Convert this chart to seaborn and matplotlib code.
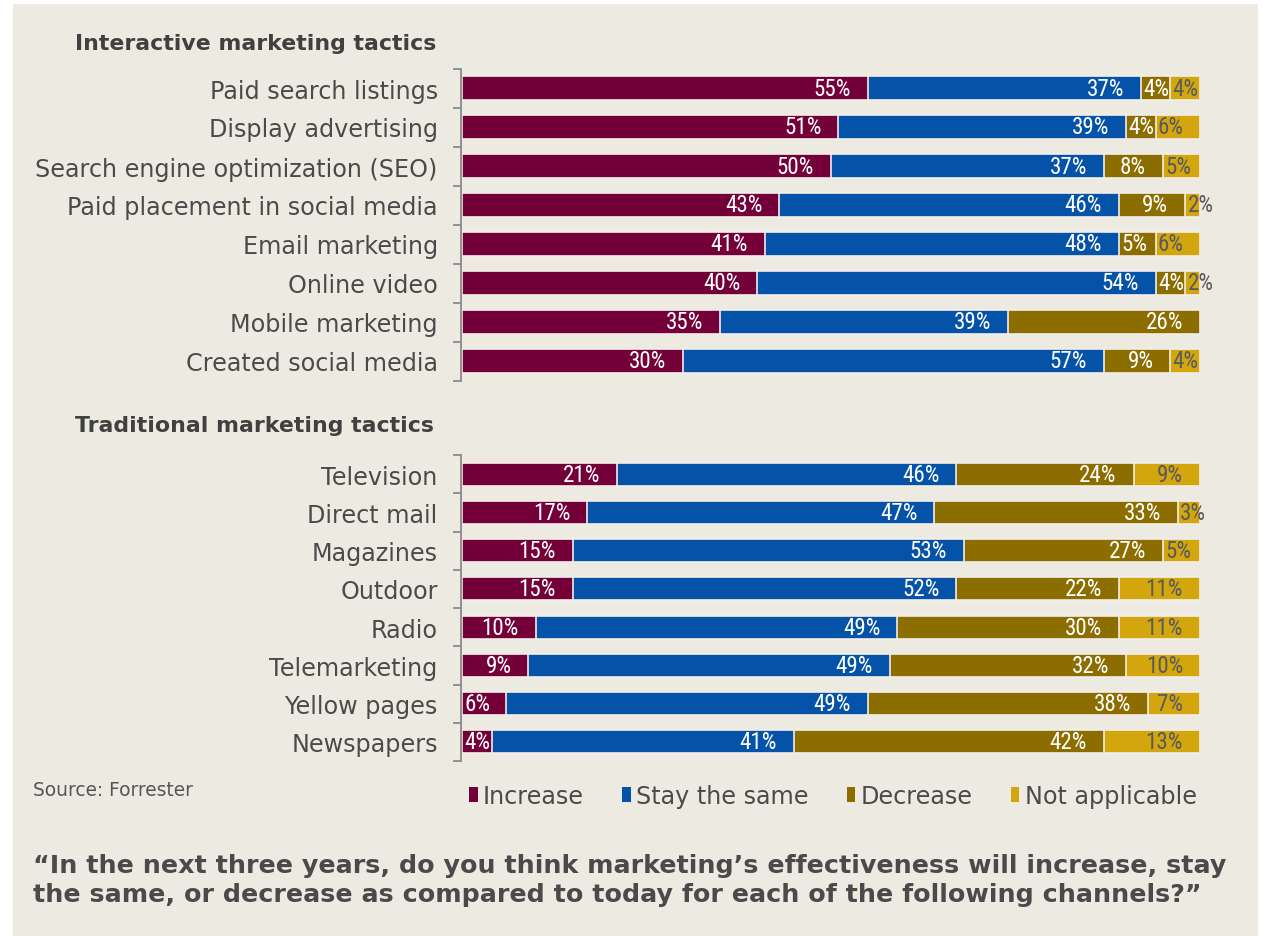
import matplotlib
matplotlib.use("Agg")
import matplotlib.pyplot as plt
from matplotlib.patches import Patch, Rectangle
from matplotlib import font_manager
import pandas as pd
import seaborn as sns

# ---- data -------------------------------------------------------------
interactive_tactics = [
    "Paid search listings",
    "Display advertising",
    "Search engine optimization (SEO)",
    "Paid placement in social media",
    "Email marketing",
    "Online video",
    "Mobile marketing",
    "Created social media",
]
interactive_increase = [55, 51, 50, 43, 41, 40, 35, 30]
interactive_same = [37, 39, 37, 46, 48, 54, 39, 57]
interactive_decrease = [4, 4, 8, 9, 5, 4, 26, 9]
interactive_na = [4, 6, 5, 2, 6, 2, 0, 4]

traditional_tactics = [
    "Television",
    "Direct mail",
    "Magazines",
    "Outdoor",
    "Radio",
    "Telemarketing",
    "Yellow pages",
    "Newspapers",
]
traditional_increase = [21, 17, 15, 15, 10, 9, 6, 4]
traditional_same = [46, 47, 53, 52, 49, 49, 49, 41]
traditional_decrease = [24, 33, 27, 22, 30, 32, 38, 42]
traditional_na = [9, 3, 5, 11, 11, 10, 7, 13]

series_names = ["Increase", "Stay the same", "Decrease", "Not applicable"]
series_colors = ["#74003A", "#0553A8", "#8C6D00", "#D2A60C"]
label_colors = ["white", "white", "white", "#585a60"]

panel_titles = ["Interactive marketing tactics", "Traditional marketing tactics"]
source_note = "Source: Forrester"
question_lines = [
    "\u201cIn the next three years, do you think marketing\u2019s effectiveness will increase, stay",
    "the same, or decrease as compared to today for each of the following channels?\u201d",
]

# ---- style ------------------------------------------------------------
sns.set_theme(style="white")
plt.rcParams["font.family"] = ["DejaVu Sans"]

available = {f.name for f in font_manager.fontManager.ttflist}
value_font, value_size = "DejaVu Sans", 12.3
for name, size in [("Liberation Sans Narrow", 17.0), ("Roboto Condensed", 16.6), ("Roboto", 14.6)]:
    if name in available:
        value_font, value_size = name, size
        break

W, H = 1262, 937
BG = "#EDEBE1"
TEXT = "#4a4a4a"
SPINE = "#8a8a8a"
EDGE = "#F4EEEA"

fig = plt.figure(figsize=(W / 100, H / 100), dpi=100, facecolor="white")
fig.patches.append(Rectangle((13 / W, 0), (1258 - 13) / W, (H - 5) / H,
                             transform=fig.transFigure, facecolor=BG,
                             edgecolor="none", zorder=-10))


def px_box(left, top, right, bottom):
    return [left / W, 1 - bottom / H, (right - left) / W, (bottom - top) / H]


ax_top = fig.add_axes(px_box(462, 69.5, 1200, 381.5))
ax_bot = fig.add_axes(px_box(462, 456, 1200, 762))

renderer = fig.canvas.get_renderer()


def draw_panel(ax, tactics, series):
    df = pd.DataFrame({"tactic": tactics})
    running = [0] * len(tactics)
    for name, vals in zip(series_names, series):
        df[name] = vals
        running = [r + v for r, v in zip(running, vals)]
        df[name + " end"] = running

    # stacked bars: draw cumulative totals from the outermost segment inward
    for name, color in reversed(list(zip(series_names, series_colors))):
        sns.barplot(data=df, x=name + " end", y="tactic", orient="h",
                    color=color, saturation=1, width=0.6, errorbar=None,
                    edgecolor=EDGE, linewidth=1.2, ax=ax)

    ax.set_xlim(0, 100)
    ax.set_ylim(len(tactics) - 0.5, -0.5)
    ax.set_xlabel("")
    ax.set_ylabel("")
    ax.set_facecolor("none")
    for side in ["top", "right", "bottom"]:
        ax.spines[side].set_visible(False)
    ax.spines["left"].set_color(SPINE)
    ax.spines["left"].set_linewidth(1.3)
    ax.spines["left"].set_position(("outward", 1))
    ax.set_xticks([])
    ax.set_yticks(range(len(tactics)))
    ax.set_yticklabels(tactics, fontsize=17.2, color=TEXT)
    ax.set_yticks([k - 0.5 for k in range(len(tactics) + 1)], minor=True)
    ax.tick_params(axis="y", which="major", length=0, pad=16.5)
    ax.tick_params(axis="y", which="minor", length=5.8, width=1.3,
                   color=SPINE, direction="out", left=True)

    # value labels at the inner end of each segment
    pad = 17 / 7.38
    for k, name in enumerate(series_names):
        for i in range(len(tactics)):
            v = df[name].iloc[i]
            if v <= 0:
                continue
            end = df[name + " end"].iloc[i]
            start = end - v
            t = ax.text(end - pad, i, f"{v}%", ha="right", va="center",
                        color=label_colors[k], fontsize=value_size,
                        family=value_font)
            bb = t.get_window_extent(renderer)
            start_px = ax.transData.transform((start, i))[0]
            if bb.x0 < start_px + 2:
                t.set_x(start + 0.3)
                t.set_ha("left")


draw_panel(ax_top, interactive_tactics,
           [interactive_increase, interactive_same, interactive_decrease, interactive_na])
draw_panel(ax_bot, traditional_tactics,
           [traditional_increase, traditional_same, traditional_decrease, traditional_na])

# section headers
fig.text(75 / W, 1 - 44 / H, panel_titles[0], fontsize=15.8, fontweight="bold",
         color="#404040", va="center", ha="left")
fig.text(75 / W, 1 - 426 / H, panel_titles[1], fontsize=15.8, fontweight="bold",
         color="#404040", va="center", ha="left")

# legend
handles = [Patch(facecolor=c, edgecolor="none", label=n)
           for n, c in zip(series_names, series_colors)]
fig.legend(handles=handles, loc="center left", bbox_to_anchor=(469 / W, 1 - 797 / H),
           ncol=4, frameon=False, fontsize=17.2, handlelength=0.36,
           handleheight=0.55, handletextpad=0.22, columnspacing=1.6,
           borderpad=0, borderaxespad=0, labelcolor=TEXT)

fig.text(33 / W, 1 - 791 / H, source_note, fontsize=13.4, color="#555555",
         va="center", ha="left")

fig.text(33 / W, 1 - 873 / H, question_lines[0], fontsize=18.3, fontweight="bold",
         color=TEXT, va="baseline", ha="left")
fig.text(33 / W, 1 - 902 / H, question_lines[1], fontsize=18.3, fontweight="bold",
         color=TEXT, va="baseline", ha="left")

fig.savefig("out.png", dpi=100, facecolor="white")
